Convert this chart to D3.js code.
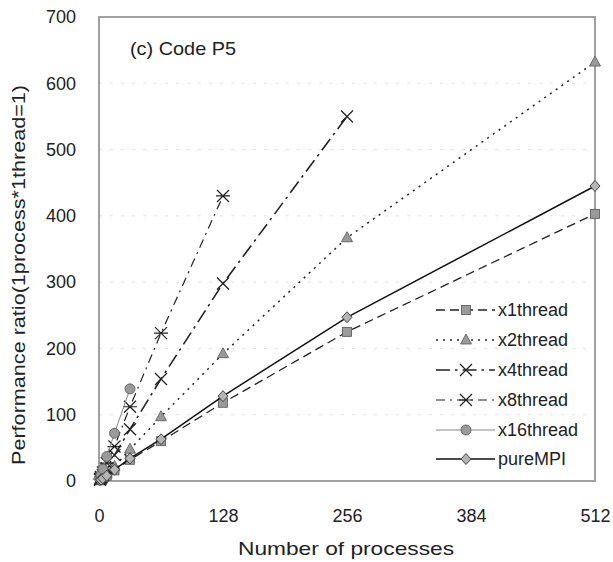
<!DOCTYPE html>
<html>
<head>
<meta charset="utf-8">
<script src="https://cdn.jsdelivr.net/npm/d3@7"></script>
<style>
html,body{margin:0;padding:0;background:#fff;}
svg{display:block;}
text{font-family:"Liberation Sans","Noto Sans",Arial,sans-serif;fill:#222;}
</style>
</head>
<body>
<svg id="chart" width="613" height="562"></svg>
<script>
// ---- data ----
const xTicks = [0, 128, 256, 384, 512];
const yTicks = [0, 100, 200, 300, 400, 500, 600, 700];
const seriesNames = ["x1thread", "x2thread", "x4thread", "x8thread", "x16thread", "pureMPI"];
const procs = [1, 2, 4, 8, 16, 32, 64, 128, 256, 512];
const x1thread  = [1, 2, 4, 8, 16, 32, 60, 118, 225, 403];
const x2thread  = [1.5, 3, 6, 11, 22, 48, 97, 192, 367, 632];
const x4thread  = [2, 4, 9, 19, 39, 78, 154, 298, 550];
const x8thread  = [3, 6, 13, 27, 52, 112, 223, 430];
const x16thread = [5, 9, 18, 37, 72, 139];
const pureMPI   = [1, 2, 4, 8, 17, 34, 63, 128, 247, 445];
const xTitle = "Number of processes";
const yTitle = "Performance ratio(1process*1thread=1)";
const panelLabel = "(c) Code P5";

const seriesValues = [x1thread, x2thread, x4thread, x8thread, x16thread, pureMPI];
const styles = [
  {dash: "9,5", width: 1.3, stroke: "#222", marker: "square"},
  {dash: "2,5", width: 1.5, stroke: "#222", marker: "triangle"},
  {dash: "14,5,2.5,5", width: 1.6, stroke: "#222", marker: "cross"},
  {dash: "9,5,2,5", width: 1.2, stroke: "#222", marker: "asterisk"},
  {dash: null, width: 1.0, stroke: "#888", marker: "circle"},
  {dash: null, width: 1.5, stroke: "#111", marker: "diamond"}
];

const svg = d3.select("#chart");
const L = 99, R = 595, T = 17, B = 481;
const x = d3.scaleLinear().domain([0, 512]).range([L, R]);
const y = d3.scaleLinear().domain([0, 700]).range([B, T]);

// faint gridlines
svg.append("g").selectAll("line").data(yTicks.filter(d => d > 0 && d < 700)).join("line")
  .attr("x1", L).attr("x2", R).attr("y1", d => y(d)).attr("y2", d => y(d))
  .attr("stroke", "#e2e2e2").attr("stroke-width", 1).attr("stroke-dasharray", "3,8");

// axes (labels only)
const yAxis = svg.append("g").attr("transform", `translate(${L},0)`)
  .call(d3.axisLeft(y).tickValues(yTicks).tickSize(0).tickPadding(23).tickFormat(d3.format("d")));
const xAxis = svg.append("g").attr("transform", `translate(0,${B})`)
  .call(d3.axisBottom(x).tickValues(xTicks).tickSize(0).tickPadding(28).tickFormat(d3.format("d")));
[yAxis, xAxis].forEach(g => {
  g.select(".domain").remove();
  g.selectAll("text").style("font-size", "18px").attr("fill", "#222")
    .style("font-family", '"Liberation Sans","Noto Sans",Arial,sans-serif');
});

// frame
svg.append("rect").attr("x", L).attr("y", T).attr("width", R - L).attr("height", B - T)
  .attr("fill", "none").attr("stroke", "#a0a0a0").attr("stroke-width", 2);

// titles
svg.append("text").attr("x", (L + R) / 2 - 1).attr("y", 555).attr("text-anchor", "middle")
  .style("font-size", "19px").attr("textLength", 216).attr("lengthAdjust", "spacingAndGlyphs").text(xTitle);
svg.append("text").attr("transform", `translate(25,275) rotate(-90)`)
  .attr("text-anchor", "middle").style("font-size", "19px")
  .attr("textLength", 380).attr("lengthAdjust", "spacingAndGlyphs").text(yTitle);
svg.append("text").attr("x", 130).attr("y", 55).style("font-size", "19px")
  .attr("textLength", 106).attr("lengthAdjust", "spacingAndGlyphs").text(panelLabel);

// markers
function drawMarker(g, type, cx, cy) {
  const fill = "#9a9a9a", st = "#555";
  if (type === "square") {
    g.append("rect").attr("x", cx - 4.5).attr("y", cy - 4.5).attr("width", 9).attr("height", 9)
      .attr("fill", fill).attr("stroke", st).attr("stroke-width", 0.8);
  } else if (type === "triangle") {
    g.append("path").attr("d", `M${cx},${cy - 6}L${cx + 5.5},${cy + 4}L${cx - 5.5},${cy + 4}Z`)
      .attr("fill", fill).attr("stroke", st).attr("stroke-width", 0.8);
  } else if (type === "cross") {
    g.append("path").attr("d", `M${cx - 6},${cy - 6}L${cx + 6},${cy + 6}M${cx - 6},${cy + 6}L${cx + 6},${cy - 6}`)
      .attr("stroke", "#222").attr("stroke-width", 1.3);
  } else if (type === "asterisk") {
    g.append("path").attr("d", `M${cx - 6},${cy - 6}L${cx + 6},${cy + 6}M${cx - 6},${cy + 6}L${cx + 6},${cy - 6}M${cx - 7},${cy}L${cx + 7},${cy}`)
      .attr("stroke", "#222").attr("stroke-width", 1.2);
  } else if (type === "circle") {
    g.append("circle").attr("cx", cx).attr("cy", cy).attr("r", 5)
      .attr("fill", fill).attr("stroke", st).attr("stroke-width", 0.8);
  } else if (type === "diamond") {
    g.append("path").attr("d", `M${cx},${cy - 5.5}L${cx + 5},${cy}L${cx},${cy + 5.5}L${cx - 5},${cy}Z`)
      .attr("fill", "#b5b5b5").attr("stroke", "#444").attr("stroke-width", 1);
  }
}

const line = d3.line().x(d => x(d[0])).y(d => y(d[1]));
seriesNames.forEach((name, i) => {
  const vals = seriesValues[i];
  const pts = vals.map((v, j) => [procs[j], v]);
  const s = styles[i];
  const g = svg.append("g").attr("class", "series-" + name);
  g.append("path").datum(pts).attr("d", line).attr("fill", "none")
    .attr("stroke", s.stroke).attr("stroke-width", s.width)
    .attr("stroke-dasharray", s.dash);
  pts.forEach(p => drawMarker(g, s.marker, x(p[0]), y(p[1])));
});

// legend
const legY = [310, 340, 370, 400, 430, 459];
seriesNames.forEach((name, i) => {
  const s = styles[i];
  const g = svg.append("g").attr("class", "legend");
  g.append("line").attr("x1", 436).attr("x2", 495).attr("y1", legY[i]).attr("y2", legY[i])
    .attr("stroke", s.stroke).attr("stroke-width", s.width).attr("stroke-dasharray", s.dash);
  drawMarker(g, s.marker, 466, legY[i]);
  g.append("text").attr("x", 498).attr("y", legY[i] + 6).style("font-size", "18px").text(name);
});
</script>
</body>
</html>
